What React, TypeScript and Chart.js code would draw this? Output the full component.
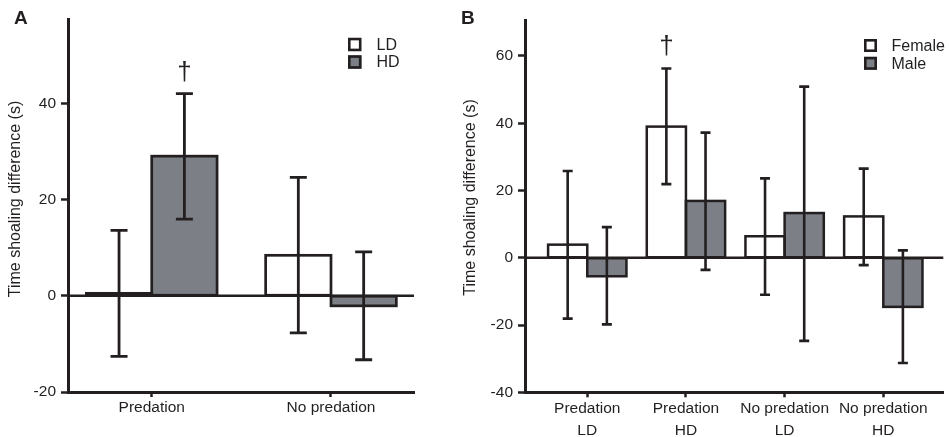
import React, { useEffect, useRef } from 'react';
import { Chart, registerables } from 'chart.js';

Chart.register(...registerables);

const INK = '#231f20';
const GREY = '#7c8086';
const WHITE = '#ffffff';
const FONT = "'Liberation Sans', Arial, Helvetica, sans-serif";
const HEIGHT = 437;

// Panel A: shoaling difference by density, within each predation regime
const densityCategories: (string | string[])[] = ['Predation', 'No predation'];
const ldMeans = [0.5, 8.4];
const ldLower = [-12.6, -7.7];
const ldUpper = [13.6, 24.6];
const hdMeans = [29.0, -2.1];
const hdLower = [15.9, -13.3];
const hdUpper = [42.0, 9.1];
const densityTicks = [-20, 0, 20, 40];
const densityRange = [-20, 57.5];
const densityMarks = [{ series: 1, index: 0, symbol: '†' }];

// Panel B: shoaling difference by sex, for each predation × density group
const sexCategories: (string | string[])[] = [
  ['Predation', 'LD'],
  ['Predation', 'HD'],
  ['No predation', 'LD'],
  ['No predation', 'HD'],
];
const femaleMeans = [3.9, 39.0, 6.4, 12.3];
const femaleLower = [-18.1, 21.9, -11.0, -2.2];
const femaleUpper = [25.8, 56.3, 23.6, 26.5];
const maleMeans = [-5.5, 16.9, 13.3, -14.6];
const maleLower = [-19.8, -3.6, -24.7, -31.3];
const maleUpper = [9.1, 37.2, 50.9, 2.2];
const sexTicks = [-40, -20, 0, 20, 40, 60];
const sexRange = [-40, 70.7];
const sexMarks = [{ series: 0, index: 1, symbol: '†' }];

const yTitle = 'Time shoaling difference (s)';

type Series = { label: string; means: number[]; lower: number[]; upper: number[]; fill: string };

interface PanelSpec {
  letter: string;
  categories: (string | string[])[];
  series: Series[];
  yTicks: number[];
  yRange: number[];
  marks: { series: number; index: number; symbol: string }[];
  left: number;
  width: number;
  area: { left: number; right: number; top: number; bottom: number };
  xRange: [number, number];
  catPct: number;
  outline: number;
  errWidth: number;
  capWidth: number;
  legend: { boxX: number; textX: number; rowY: number[]; box: number };
  titleAt: { x: number; y: number };
  letterAt: { x: number; y: number };
}

const panelDecor = {
  id: 'panelDecor',
  afterDatasetsDraw(chart: any, _args: any, opts: any) {
    const spec: PanelSpec = opts.spec;
    const { ctx, chartArea, scales } = chart;
    const y = scales.y;
    ctx.save();

    // bar outlines, stroked on the bar edges
    ctx.strokeStyle = INK;
    ctx.lineWidth = spec.outline;
    ctx.lineJoin = 'miter';
    chart.data.datasets.forEach((_ds: any, di: number) => {
      chart.getDatasetMeta(di).data.forEach((bar: any) => {
        const x0 = bar.x - bar.width / 2;
        const top = Math.min(bar.y, bar.base);
        const h = Math.abs(bar.base - bar.y);
        ctx.strokeRect(x0, top, bar.width, h);
      });
    });

    // baseline at zero
    const y0 = y.getPixelForValue(0);
    ctx.lineWidth = 2.5;
    ctx.beginPath();
    ctx.moveTo(chartArea.left, y0);
    ctx.lineTo(chartArea.right, y0);
    ctx.stroke();

    // error bars
    ctx.lineWidth = spec.errWidth;
    ctx.lineCap = 'butt';
    chart.data.datasets.forEach((ds: any, di: number) => {
      const meta = chart.getDatasetMeta(di);
      meta.data.forEach((bar: any, i: number) => {
        const x = bar.x;
        const lo = y.getPixelForValue(ds.lower[i]);
        const hi = y.getPixelForValue(ds.upper[i]);
        const half = spec.capWidth / 2;
        ctx.beginPath();
        ctx.moveTo(x, lo);
        ctx.lineTo(x, hi);
        ctx.moveTo(x - half, lo);
        ctx.lineTo(x + half, lo);
        ctx.moveTo(x - half, hi);
        ctx.lineTo(x + half, hi);
        ctx.stroke();
      });
    });

    // significance marks above error bars
    ctx.fillStyle = INK;
    ctx.font = `26px ${FONT}`;
    ctx.textAlign = 'center';
    ctx.textBaseline = 'alphabetic';
    spec.marks.forEach((m) => {
      const bar = chart.getDatasetMeta(m.series).data[m.index];
      const ds: any = chart.data.datasets[m.series];
      const top = y.getPixelForValue(ds.upper[m.index]);
      ctx.fillText(m.symbol, bar.x, top - 14);
    });

    // legend
    const lg = spec.legend;
    ctx.font = `16px ${FONT}`;
    ctx.textAlign = 'left';
    ctx.textBaseline = 'middle';
    chart.data.datasets.forEach((ds: any, di: number) => {
      const cy = lg.rowY[di];
      const bw = 2.6;
      ctx.fillStyle = ds.backgroundColor;
      ctx.fillRect(lg.boxX, cy - 1 - lg.box / 2, lg.box, lg.box);
      ctx.strokeStyle = INK;
      ctx.lineWidth = bw;
      ctx.strokeRect(lg.boxX + bw / 2, cy - 1 - lg.box / 2 + bw / 2, lg.box - bw, lg.box - bw);
      ctx.fillStyle = INK;
      ctx.fillText(ds.label, lg.textX, cy);
    });

    // y-axis title
    ctx.save();
    ctx.translate(spec.titleAt.x, spec.titleAt.y);
    ctx.rotate(-Math.PI / 2);
    ctx.textAlign = 'center';
    ctx.textBaseline = 'middle';
    ctx.font = `16px ${FONT}`;
    ctx.fillText(yTitle, 0, 0);
    ctx.restore();

    // panel letter
    ctx.font = `bold 19px ${FONT}`;
    ctx.textAlign = 'left';
    ctx.textBaseline = 'alphabetic';
    ctx.fillText(spec.letter, spec.letterAt.x, spec.letterAt.y);

    ctx.restore();
  },
};

function buildConfig(spec: PanelSpec): any {
  const tickFont = { family: FONT, size: 15.5, lineHeight: '22px' };
  return {
    type: 'bar',
    data: {
      datasets: spec.series.map((s) => ({
        label: s.label,
        data: s.means.map((v, i) => ({ x: i, y: v })),
        lower: s.lower,
        upper: s.upper,
        backgroundColor: s.fill,
        borderWidth: 0,
        categoryPercentage: spec.catPct,
        barPercentage: 1,
      })),
    },
    options: {
      responsive: false,
      animation: false,
      events: [],
      layout: {
        padding: { left: 0, right: spec.width - spec.area.right, top: spec.area.top, bottom: 0 },
      },
      plugins: {
        legend: { display: false },
        tooltip: { enabled: false },
        title: { display: false },
        panelDecor: { spec },
      },
      scales: {
        x: {
          type: 'linear',
          min: spec.xRange[0],
          max: spec.xRange[1],
          offset: false,
          afterFit: (s: any) => {
            s.height = HEIGHT - spec.area.bottom;
          },
          afterBuildTicks: (s: any) => {
            s.ticks = spec.categories.map((_, i) => ({ value: i }));
          },
          ticks: {
            autoSkip: false,
            maxRotation: 0,
            minRotation: 0,
            padding: 0,
            color: INK,
            font: tickFont,
            callback: (v: number) => spec.categories[Math.round(v)],
          },
          grid: {
            offset: false,
            drawOnChartArea: false,
            drawTicks: true,
            tickLength: 5,
            tickWidth: 2.5,
            tickColor: INK,
          },
          border: { display: true, color: INK, width: 3 },
        },
        y: {
          type: 'linear',
          min: spec.yRange[0],
          max: spec.yRange[1],
          afterFit: (s: any) => {
            s.width = spec.area.left;
          },
          afterBuildTicks: (s: any) => {
            s.ticks = spec.yTicks.map((v) => ({ value: v }));
          },
          ticks: {
            padding: 5,
            color: INK,
            font: tickFont,
          },
          grid: {
            offset: false,
            drawOnChartArea: false,
            drawTicks: true,
            tickLength: 7,
            tickWidth: 2.5,
            tickColor: INK,
          },
          border: { display: true, color: INK, width: 3 },
        },
      },
    },
    plugins: [panelDecor],
  };
}

const panelA: PanelSpec = {
  letter: 'A',
  categories: densityCategories,
  series: [
    { label: 'LD', means: ldMeans, lower: ldLower, upper: ldUpper, fill: WHITE },
    { label: 'HD', means: hdMeans, lower: hdLower, upper: hdUpper, fill: GREY },
  ],
  yTicks: densityTicks,
  yRange: densityRange,
  marks: densityMarks,
  left: 0,
  width: 455,
  area: { left: 68, right: 414, top: 19, bottom: 392 },
  xRange: [-0.467, 1.463],
  catPct: 0.729,
  outline: 2.7,
  errWidth: 2.8,
  capWidth: 17,
  legend: { boxX: 348, textX: 376.5, rowY: [45.5, 63], box: 13.5 },
  titleAt: { x: 16, y: 199 },
  letterAt: { x: 14, y: 23.5 },
};

const panelB: PanelSpec = {
  letter: 'B',
  categories: sexCategories,
  series: [
    { label: 'Female', means: femaleMeans, lower: femaleLower, upper: femaleUpper, fill: WHITE },
    { label: 'Male', means: maleMeans, lower: maleLower, upper: maleUpper, fill: GREY },
  ],
  yTicks: sexTicks,
  yRange: sexRange,
  marks: sexMarks,
  left: 455,
  width: 494,
  area: { left: 70, right: 488.3, top: 20, bottom: 392.3 },
  xRange: [-0.631, 3.608],
  catPct: 0.794,
  outline: 2.5,
  errWidth: 2.6,
  capWidth: 10,
  legend: { boxX: 409, textX: 436.5, rowY: [46.5, 64.3], box: 13 },
  titleAt: { x: 16, y: 197.5 },
  letterAt: { x: 6, y: 23.5 },
};

function Panel({ spec }: { spec: PanelSpec }) {
  const ref = useRef<HTMLCanvasElement>(null);
  useEffect(() => {
    if (!ref.current) return;
    const chart = new Chart(ref.current, buildConfig(spec));
    return () => chart.destroy();
  }, [spec]);
  return (
    <canvas
      ref={ref}
      width={spec.width}
      height={HEIGHT}
      style={{ position: 'absolute', left: spec.left, top: 0, width: spec.width, height: HEIGHT, display: 'block' }}
    />
  );
}

export default function App() {
  return (
    <div style={{ position: 'absolute', left: 0, top: 0, width: 949, height: HEIGHT, background: '#ffffff', overflow: 'hidden' }}>
      <Panel spec={panelA} />
      <Panel spec={panelB} />
    </div>
  );
}
